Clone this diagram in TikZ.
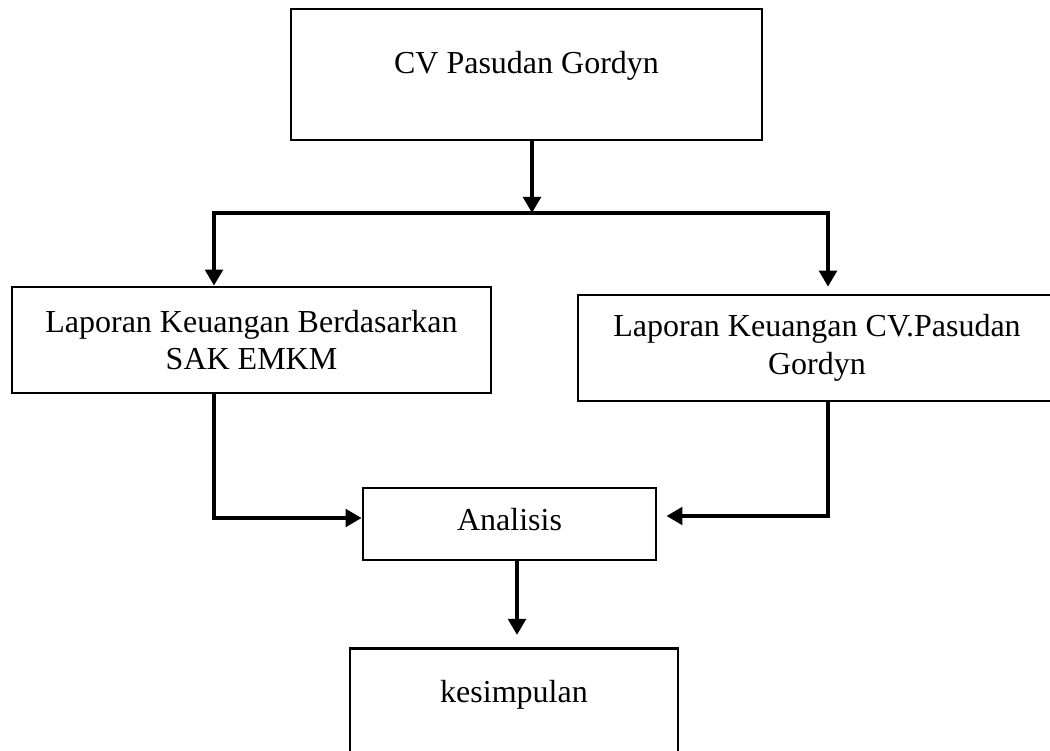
\documentclass[tikz,border=0pt]{standalone}
\usepackage{fontspec}
\setmainfont{Liberation Serif}
\usetikzlibrary{arrows.meta}
\tikzstyle{kotak}=[rectangle, draw, line width=1pt, align=center, inner xsep=0pt, font=\fontsize{12}{14.2}\selectfont]
\tikzstyle{panah}=[line width=1.5pt, -{Triangle[length=6pt,width=6.5pt]}]
\newcommand{\kotak}{\node[kotak]}

\begin{document}
\begin{tikzpicture}[x=0.375pt, y=-0.375pt]
\useasboundingbox (0,0) rectangle (1050,751);
\clip (0,0) rectangle (1050,751);
\kotak (cv) at (526.5,74.5)[minimum width=176.6pt, text height=21pt, text depth=21.5pt]{CV Pasudan Gordyn};
\kotak (lap1) at (251.5,340)[minimum width=179.6pt, minimum height=39.75pt]{Laporan Keuangan Berdasarkan\\SAK EMKM};
\kotak (lap2) at (817,348)[minimum width=179.25pt, minimum height=39.75pt]{Laporan Keuangan CV.Pasudan\\Gordyn};
\kotak (ana) at (509.5,524)[minimum width=109.9pt, minimum height=27pt, text depth=3.8pt]{Analisis};
\kotak (kes) at (514,647)[anchor=north, minimum width=123pt, text height=17pt, text depth=40pt]{kesimpulan};
\coordinate (cabang) at (532,213);
\coordinate (kiri) at (214,213);
\coordinate (kanan) at (828,213);
\coordinate (bawahkiri) at (214,518);
\coordinate (bawahkanan) at (828,516);
\coordinate (tengah) at (517,560);
\draw[panah] (cv.south -| cabang) -- (cabang);
\draw[line width=1.5pt, line cap=rect] (kiri) -- (kanan);
\draw[panah] (kiri) -- (lap1.north -| kiri);
\draw[panah, shorten >=2.6pt] (kanan) -- (lap2.north -| kanan);
\draw[panah] (lap1.south -| kiri) -- (bawahkiri) -- (ana.west |- bawahkiri);
\draw[panah, shorten >=3.4pt] (lap2.south -| kanan) -- (bawahkanan) -- (ana.east |- bawahkanan);
\draw[panah, shorten >=4.5pt] (ana.south -| tengah) -- (kes.north -| tengah);
\end{tikzpicture}
\end{document}
